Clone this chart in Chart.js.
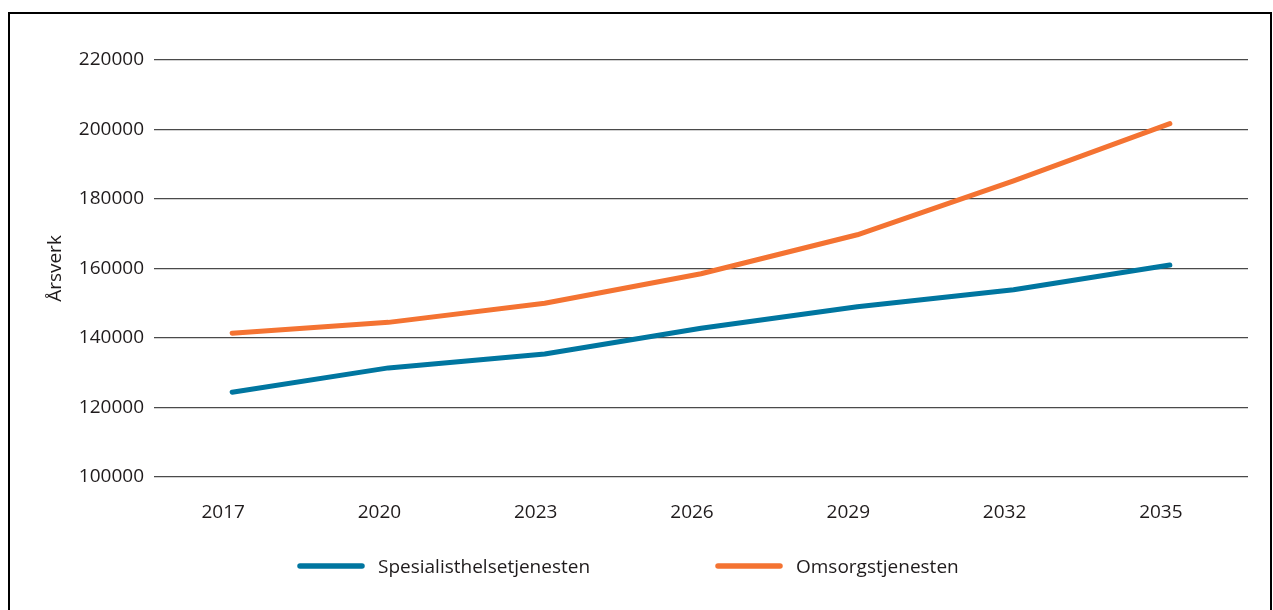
<!DOCTYPE html>
<html>
<head>
<meta charset="utf-8">
<script src="https://cdn.jsdelivr.net/npm/chart.js@4/dist/chart.umd.min.js"></script>
<style>
    html, body { margin: 0; padding: 0; background: #fff; overflow: hidden; }
    #wrap { position: relative; width: 1273px; height: 610px; }
    #frame { position: absolute; left: 8px; top: 12px; width: 1260px; height: 700px; border: 2px solid #000; }
    #chart { position: absolute; left: 0; top: 0; }
</style>
</head>
<body>
<div id="wrap">
    <div id="frame"></div>
    <canvas id="chart" width="1273" height="610"></canvas>
</div>
<script>
    // data
    const years = ['2017', '2020', '2023', '2026', '2029', '2032', '2035'];
    const spesialist = [124400, 131400, 135400, 142800, 149000, 153900, 161000];
    const omsorg = [141400, 144500, 150000, 158500, 169700, 185200, 201700];
    const seriesNames = ['Spesialisthelsetjenesten', 'Omsorgstjenesten'];
    const yTitle = 'Årsverk';

    const textColor = '#1f1b1c';
    const fontFamily = '"Open Sans", "Noto Sans", sans-serif';

    // legend drawn under the axis, lines with round caps
    const legendPlugin = {
        id: 'bottomLegend',
        afterDraw(chart) {
            const ctx = chart.ctx;
            const xs = [297, 715];
            const y = 566;
            ctx.save();
            chart.data.datasets.forEach((ds, i) => {
                ctx.strokeStyle = ds.borderColor;
                ctx.lineWidth = 5.5;
                ctx.lineCap = 'round';
                ctx.beginPath();
                ctx.moveTo(xs[i] + 3, y);
                ctx.lineTo(xs[i] + 65, y);
                ctx.stroke();
                ctx.fillStyle = textColor;
                ctx.font = '19px ' + fontFamily;
                ctx.textBaseline = 'middle';
                ctx.textAlign = 'left';
                ctx.fillText(ds.label, xs[i] + 81, y + 2);
            });
            ctx.restore();
        }
    };

    new Chart(document.getElementById('chart').getContext('2d'), {
        type: 'line',
        data: {
            labels: years,
            datasets: [
                {
                    label: seriesNames[0],
                    data: spesialist,
                    borderColor: '#0076a0',
                    borderWidth: 5,
                    borderCapStyle: 'round',
                    borderJoinStyle: 'round',
                    pointRadius: 0,
                    tension: 0,
                    fill: false
                },
                {
                    label: seriesNames[1],
                    data: omsorg,
                    borderColor: '#f47332',
                    borderWidth: 5,
                    borderCapStyle: 'round',
                    borderJoinStyle: 'round',
                    pointRadius: 0,
                    tension: 0,
                    fill: false
                }
            ]
        },
        options: {
            responsive: false,
            animation: false,
            devicePixelRatio: 1,
            layout: {
                padding: { top: 60, right: 25, bottom: 83, left: 0 }
            },
            plugins: {
                legend: { display: false },
                tooltip: { enabled: false }
            },
            scales: {
                x: {
                    offset: true,
                    grid: { display: false, drawTicks: false },
                    border: { display: false },
                    ticks: {
                        color: textColor,
                        font: { family: fontFamily, size: 19 },
                        padding: 24,
                        labelOffset: -9,
                        maxRotation: 0
                    },
                    afterFit: scale => { scale.height = 50; }
                },
                y: {
                    min: 100000,
                    max: 220000,
                    grid: { color: '#4a4a4a', lineWidth: 1.2, drawTicks: false },
                    border: { display: false },
                    ticks: {
                        stepSize: 20000,
                        color: textColor,
                        font: { family: fontFamily, size: 19 },
                        padding: 10,
                        callback: v => String(v)
                    },
                    title: {
                        display: true,
                        text: yTitle,
                        color: textColor,
                        font: { family: fontFamily, size: 19 },
                        padding: { top: 44, bottom: 0 }
                    },
                    afterFit: scale => { scale.width = 154; }
                }
            }
        },
        plugins: [legendPlugin]
    });
</script>
</body>
</html>
